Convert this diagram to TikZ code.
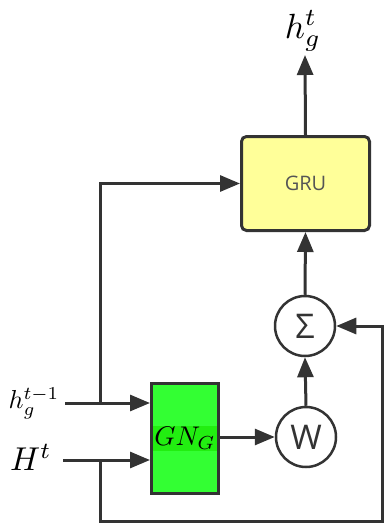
\documentclass[tikz,border=0pt]{standalone}
\usepackage{fontspec}
\setsansfont{Open Sans}
\usetikzlibrary{arrows.meta}
\definecolor{ln}{HTML}{333333}
\definecolor{gruyellow}{HTML}{FFFF99}
\definecolor{gnbox}{HTML}{33FF33}
\definecolor{gnhi}{HTML}{22EE11}
\definecolor{grutext}{HTML}{555555}
\begin{document}
\begin{tikzpicture}[x=1pt,y=-1pt,
  conn/.style={draw=ln, line width=3pt, -{Triangle[length=20pt,width=16pt]}},
  opnode/.style={circle, draw=ln, line width=2.5pt, fill=white, minimum size=60pt, inner sep=0pt, font=\sffamily\fontsize{34}{34}\selectfont, text=ln},
  lbl/.style={inner sep=0pt, text=black}]
\useasboundingbox (0,0) rectangle (385,525);
% blocks
\node[draw=ln, line width=3pt, fill=gruyellow, rounded corners=5pt, minimum width=128pt, minimum height=94pt, font=\sffamily\fontsize{20}{20}\selectfont, text=grutext] (gru) at (305.5,183.5) {GRU};
\node[opnode] (sig) at (305,326) {Σ};
\node[opnode] (w) at (306,437) {W};
\node[draw=ln, line width=3pt, fill=gnbox, minimum width=67pt, minimum height=110pt, inner sep=0pt] (gn) at (185,438.5) {};
\node[fill=gnhi, inner sep=1.5pt] (gnt) at (gn.center) {\scalebox{2.7}{$GN_G$}};
% labels
\node[lbl] (hout) at (303,31) {\scalebox{3.5}{$h_g^t$}};
\node[lbl] (hprev) at (34,403) {\scalebox{2.6}{$h_g^{t-1}$}};
\node[lbl] (Ht) at (31,457) {\scalebox{3.3}{$H^t$}};
% coordinates
\coordinate (outtip) at (305,55);
\coordinate (hs) at (65,403);
\coordinate (Hs) at (63,460);
\coordinate (jh) at (100,403);
\coordinate (jH) at (100,460);
\coordinate (up) at (100,183.5);
\coordinate (bl) at (100,521);
\coordinate (br) at (382,521);
\coordinate (tr) at (382,326);
% connectors
\draw[conn] (gru.north) -- (outtip);
\draw[conn] (sig.north) -- (gru.south);
\draw[conn] (w.north) -- (sig.south);
\draw[conn] (gn.east |- w.west) -- (w.west);
\draw[conn] (hs) -- (hs -| gn.west);
\draw[conn] (Hs) -- (Hs -| gn.west);
\draw[conn] (jh) -- (up) -- (gru.west);
\draw[conn] (jH) -- (bl) -- (br) -- (tr) -- (sig.east);
\end{tikzpicture}
\end{document}
